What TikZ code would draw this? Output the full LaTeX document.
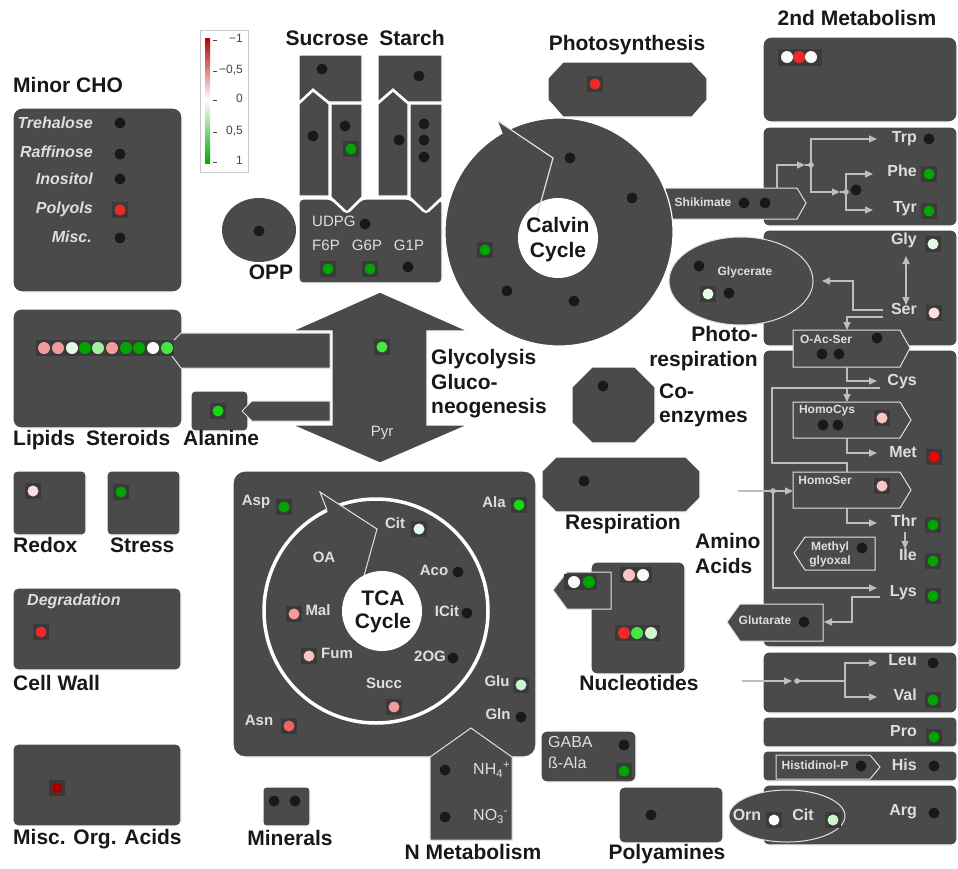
\documentclass[tikz,border=0pt]{standalone}
\usepackage{fontspec}
\setmainfont{Liberation Sans}
\usetikzlibrary{arrows.meta,calc}
\definecolor{boxgray}{RGB}{74,74,74}
\definecolor{dotbg}{RGB}{58,58,58}
\definecolor{dotblk}{RGB}{28,24,22}
\definecolor{lbl}{RGB}{24,24,24}
\definecolor{ltxt}{RGB}{222,222,222}
\definecolor{lnc}{RGB}{190,190,190}
\definecolor{edgec}{RGB}{225,225,225}
\definecolor{legc}{RGB}{200,200,200}
\definecolor{legt}{RGB}{70,70,70}
\definecolor{legr}{RGB}{185,0,0}
\definecolor{legp}{RGB}{245,120,120}
\definecolor{legg1}{RGB}{130,225,130}
\definecolor{legg2}{RGB}{0,170,0}
\definecolor{gA}{RGB}{0,165,0}
\definecolor{gB}{RGB}{20,215,20}
\definecolor{gC}{RGB}{70,230,70}
\definecolor{gD}{RGB}{165,238,165}
\definecolor{gE}{RGB}{228,250,230}
\definecolor{gF}{RGB}{205,246,205}
\definecolor{wW}{RGB}{250,250,250}
\definecolor{pA}{RGB}{252,222,222}
\definecolor{pB}{RGB}{248,195,195}
\definecolor{pC}{RGB}{242,155,155}
\definecolor{pD}{RGB}{238,100,100}
\definecolor{rA}{RGB}{240,40,40}
\definecolor{rB}{RGB}{250,0,0}
\definecolor{rC}{RGB}{165,0,0}
\newcommand\kdot[1]{\fill[dotblk] (#1) circle (5.5pt);}
\newcommand\mdot[2]{\fill[dotbg,shift={(#1)}] (-8,-8) rectangle (8,8); \fill[#2] (#1) circle (5.5pt);}
\tikzset{
 grp/.style={font=\fontsize{21}{25}\selectfont\bfseries, text=lbl, inner sep=0pt},
 itl/.style={font=\fontsize{16}{18}\selectfont\bfseries\itshape, text=ltxt, inner sep=0pt},
 lt/.style={font=\fontsize{15}{17}\selectfont\bfseries, text=ltxt, inner sep=0pt},
 aa/.style={font=\fontsize{16}{18}\selectfont\bfseries, text=ltxt, inner sep=0pt},
 rg/.style={font=\fontsize{15}{17}\selectfont, text=ltxt, inner sep=0pt},
 rgb/.style={font=\fontsize{16}{18}\selectfont, text=ltxt, inner sep=0pt},
 sm/.style={font=\fontsize{12}{13}\selectfont\bfseries, text=ltxt, inner sep=0pt},
 legtxt/.style={font=\fontsize{12}{14}\selectfont, text=legt, inner sep=0pt},
 panel/.style={fill=boxgray, draw=white, line width=1.2pt},
 inset/.style={fill=boxgray, draw=edgec, line width=1pt},
 cnx/.style={draw=lnc, line width=1.2pt},
 arr/.style={-{Triangle[length=8pt,width=7pt]}},
 darr/.style={{Triangle[length=8pt,width=7pt]}-{Triangle[length=8pt,width=7pt]}},
}
\begin{document}
\begin{tikzpicture}[x=1pt,y=-1pt]
\fill[white] (0,0) rectangle (958,868);
\useasboundingbox (0,0) rectangle (958,868);

% ---------- legend
\draw[draw=legc, fill=white, line width=0.8pt] (200,30) rectangle (248,172);
\shade[top color=legr, middle color=legp, bottom color=white] (205,38) rectangle (210,100);
\shade[top color=white, middle color=legg1, bottom color=legg2] (205,100) rectangle (210,163);
\foreach \yy in {40,71,100,132,162} \draw[legt, line width=0.6pt] (213,\yy) -- (217,\yy);
\node[legtxt, anchor=mid east] (lg1) at (243,40) {−1};
\node[legtxt, anchor=mid east] (lg2) at (243,71) {−0,5};
\node[legtxt, anchor=mid east] (lg3) at (243,100) {0};
\node[legtxt, anchor=mid east] (lg4) at (243,132) {0,5};
\node[legtxt, anchor=mid east] (lg5) at (243,162) {1};

% ---------- Minor CHO
\node[grp, anchor=mid west] (tMinor) at (13,90) {Minor CHO};
\path[panel, rounded corners=9pt] (13,108) rectangle (182,292);
\node[itl, anchor=mid east] (tTre) at (93,126) {Trehalose};
\node[itl, anchor=mid east] (tRaf) at (93,155) {Raffinose};
\node[itl, anchor=mid east] (tIno) at (93,182) {Inositol};
\node[itl, anchor=mid east] (tPol) at (93,211) {Polyols};
\node[itl, anchor=mid east] (tMsc) at (92,240) {Misc.};
\kdot{120,123} \kdot{120,154} \kdot{120,179} \mdot{120,210}{rA} \kdot{120,238}

% ---------- OPP
\fill[boxgray] (259,230) ellipse (37pt and 32pt);
\kdot{259,231}
\node[grp, anchor=mid] (tOPP) at (271,277) {OPP};

% ---------- Sucrose / Starch
\node[grp, anchor=mid] (tSuc) at (327,43) {Sucrose};
\node[grp, anchor=mid] (tSta) at (412,43) {Starch};
\path[panel] (299,55) -- (362,55) -- (362,102) -- (329,102) -- (313,89) -- (299,102) -- cycle;
\path[panel] (299,104) -- (313,91) -- (329,104) -- (329,196) -- (299,196) -- cycle;
\path[panel] (331,104) -- (362,104) -- (362,197) -- (347,212) -- (331,197) -- cycle;
\path[panel] (378,55) -- (442,55) -- (442,102) -- (408,102) -- (393,89) -- (378,102) -- cycle;
\path[panel] (378,104) -- (393,91) -- (408,104) -- (408,196) -- (378,196) -- cycle;
\path[panel] (410,104) -- (442,104) -- (442,197) -- (426,212) -- (410,197) -- cycle;
\path[panel, rounded corners=4pt] (299,199) -- (331,199) -- (347,214) -- (362,199) -- (410,199) -- (426,214) -- (442,199) -- (442,283) -- (299,283) -- cycle;
\kdot{322,69} \kdot{313,136} \kdot{345,126} \mdot{351,149}{gA}
\kdot{419,76} \kdot{399,140} \kdot{424,124} \kdot{424,140} \kdot{424,157}
\node[rg, anchor=mid west] (tUDPG) at (312,224) {UDPG};
\kdot{365,224}
\node[rg, anchor=mid] (tF6P) at (326,248) {F6P};
\node[rg, anchor=mid] (tG6P) at (367,248) {G6P};
\node[rg, anchor=mid] (tG1P) at (409,248) {G1P};
\mdot{328,269}{gA} \mdot{370,269}{gA} \kdot{408,267}

% ---------- Glycolysis double arrow
\path[panel] (380,292) -- (468,331) -- (427,331) -- (427,425) -- (468,425) -- (380,463) -- (292,425) -- (332,425) -- (332,331) -- (292,331) -- cycle;
\mdot{382,347}{gC}
\node[rg, anchor=mid] (tPyr) at (382,434) {Pyr};
\node[grp, anchor=west, align=left, font=\fontsize{21}{24.5}\selectfont\bfseries] (tGly) at (431,384) {Glycolysis\\Gluco-\\neogenesis};

% ---------- Lipids, Alanine
\path[panel, rounded corners=8pt] (13,309) rectangle (182,428);
\path[inset] (330,333) -- (181,333) -- (166,348) -- (181,368) -- (330,368) -- cycle;
\path[panel, rounded corners=4pt] (191,391) rectangle (248,431);
\path[inset] (330,401) -- (252,401) -- (242,411) -- (252,421) -- (330,421) -- cycle;
\fill[dotbg] (36,340) rectangle (174,356);
\foreach \xx/\cc in {44/pC,58/pC,72/gE,85/gA,98/gD,112/pC,126/gA,139/gA,153/wW,167/gC} \fill[\cc] (\xx,348) circle (6pt);
\mdot{218,411}{gB}
\node[grp, anchor=mid west] (tLip) at (13,443) {Lipids};
\node[grp, anchor=mid west] (tSter) at (86,443) {Steroids};
\node[grp, anchor=mid west] (tAlan) at (183,443) {Alanine};

% ---------- Redox / Stress / Cell wall / Misc / Minerals
\path[panel, rounded corners=4pt] (13,471) rectangle (86,535);
\path[panel, rounded corners=4pt] (107,471) rectangle (180,535);
\mdot{33,491}{pA} \mdot{121,492}{gA}
\node[grp, anchor=mid west] (tRedox) at (13,550) {Redox};
\node[grp, anchor=mid west] (tStress) at (110,550) {Stress};
\path[panel, rounded corners=5pt] (13,588) rectangle (181,670);
\node[itl, anchor=mid west] (tDeg) at (27,603) {Degradation};
\mdot{41,632}{rA}
\node[grp, anchor=mid west] (tCell) at (13,688) {Cell Wall};
\path[panel, rounded corners=5pt] (13,744) rectangle (181,826);
\mdot{57,788}{rC}
\node[grp, anchor=mid west] (tMiscO) at (13,842) {Misc. Org. Acids};
\path[panel, rounded corners=3pt] (263,787) rectangle (310,826);
\kdot{274,801} \kdot{295,801}
\node[grp, anchor=mid] (tMin) at (290,843) {Minerals};

% ---------- right column boxes
\node[grp, anchor=mid] (t2nd) at (857,23) {2nd Metabolism};
\path[panel, rounded corners=8pt] (763,37) rectangle (957,122);
\fill[dotbg] (778,49) rectangle (822,66);
\fill[wW] (787,57) circle (6pt); \fill[rA] (799,57) circle (6pt); \fill[wW] (811,57) circle (6pt);
\path[panel, rounded corners=6pt] (763,127) rectangle (957,226);
\path[panel, rounded corners=6pt] (763,230) rectangle (957,346);
\path[panel, rounded corners=6pt] (763,350) rectangle (957,647);
\path[panel, rounded corners=6pt] (763,652) rectangle (957,713);
\path[panel, rounded corners=4pt] (763,717) rectangle (957,747);
\path[panel, rounded corners=4pt] (763,751) rectangle (957,781);
\path[panel, rounded corners=6pt] (763,785) rectangle (957,845);

% shikimate
\path[inset] (665,188) -- (797,188) -- (806,203) -- (797,219) -- (665,219) -- cycle;

% ---------- Calvin cycle
\path[panel] (559,232) circle (114pt);
\fill[boxgray] (503,134) -- (498,121) -- (553,158) -- (530,165) -- cycle;
\fill[white] (558,238) circle (40pt);
\draw[edgec, line width=1.2pt] (498,121) -- (553,158) -- (537,216);
\node[grp, anchor=center, align=center] (tCalvin) at (558,240) {Calvin\\Cycle};
\kdot{570,158} \kdot{632,198} \mdot{485,250}{gA} \kdot{507,291} \kdot{574,301}
\node[sm, anchor=mid] (tShik) at (703,204) {Shikimate};
\kdot{744,203} \kdot{765,203}

% ---------- Photosynthesis
\node[grp, anchor=mid] (tPhot) at (627,48) {Photosynthesis};
\path[panel] (563,62) -- (692,62) -- (707,78) -- (707,100) -- (692,117) -- (563,117) -- (548,100) -- (548,78) -- cycle;
\mdot{595,84}{rA}

% ---------- Photorespiration
\path[inset] (741,281) ellipse (72pt and 44pt);
\node[sm, anchor=mid] (tGlyc) at (745,273) {Glycerate};
\kdot{699,266} \mdot{708,294}{gE} \kdot{729,293}
\node[grp, anchor=east, align=right] (tPhotoR) at (758,349) {Photo-\\respiration};

% ---------- amino acid insets
\path[inset] (793,330) -- (900,330) -- (910,348) -- (900,367) -- (793,367) -- cycle;
\path[inset] (793,402) -- (900,402) -- (911,420) -- (900,438) -- (793,438) -- cycle;
\path[inset] (793,472) -- (900,472) -- (911,490) -- (900,508) -- (793,508) -- cycle;
\path[inset] (805,537) -- (875,537) -- (875,570) -- (805,570) -- (794,553) -- cycle;
\path[inset] (740,604) -- (823,604) -- (823,641) -- (740,641) -- (727,622) -- cycle;
\path[inset] (776,755) -- (870,755) -- (880,767) -- (870,779) -- (776,779) -- cycle;
\path[inset] (787,816) ellipse (58pt and 26pt);

% junction coordinates
\coordinate (j1) at (811,165);
\coordinate (j2) at (846,192);
\coordinate (j3) at (773,491);
\coordinate (j4) at (797,681);

% connectors
\draw[cnx, arr] (777,188) |- (805,165);
\draw[cnx] (805,165) -- (j1);
\draw[cnx, arr] (j1) |- (877,139);
\draw[cnx, arr] (j1) |- (840,192);
\draw[cnx] (840,192) -- (j2);
\draw[cnx, arr] (j2) |- (873,174);
\draw[cnx, arr] (j2) |- (873,210);
\draw[cnx, darr] (906,256) -- (906,305);
\draw[cnx, arr] (883,310) -- (853,310) -- (853,281) -- (822,281);
\draw[cnx, arr] (883,317) -- (847,317) -- (847,330);
\draw[cnx, arr] (847,367) |- (877,381);
\draw[cnx] (880,388) -- (772,388) -- (772,463) -- (847,463) -- (847,472);
\draw[cnx, arr] (847,388) -- (847,402);
\draw[cnx, arr] (847,438) |- (877,453);
\draw[cnx, arr] (738,491) -- (793,491);
\draw[cnx, arr] (j3) |- (877,588);
\draw[cnx, arr] (847,508) |- (877,523);
\draw[cnx, arr] (905,532) -- (905,549);
\draw[cnx, arr] (880,597) -- (852,597) -- (852,622) -- (824,622);
\draw[cnx, arr] (742,681) -- (792,681);
\draw[cnx] (j4) -- (845,681);
\draw[cnx, arr] (845,681) |- (877,663);
\draw[cnx, arr] (845,681) |- (877,697);
\foreach \jj in {j1,j2,j3,j4} \fill[lnc] (\jj) circle (2.8pt);

% amino texts and dots
\node[aa, anchor=mid east] (tTrp) at (917,140) {Trp}; \kdot{929,139}
\node[aa, anchor=mid east] (tPhe) at (917,174) {Phe}; \mdot{929,174}{gA}
\node[aa, anchor=mid east] (tTyr) at (917,210) {Tyr}; \mdot{929,211}{gA}
\kdot{856,190}
\node[aa, anchor=mid east] (tGlyAA) at (917,242) {Gly}; \mdot{933,244}{gE}
\node[aa, anchor=mid east] (tSer) at (917,312) {Ser}; \mdot{934,313}{pA}
\node[sm, anchor=mid] (tOAcSer) at (826,341) {O-Ac-Ser};
\kdot{877,338} \kdot{822,354} \kdot{839,354}
\node[aa, anchor=mid east] (tCys) at (917,383) {Cys};
\node[sm, anchor=mid] (tHCys) at (827,411) {HomoCys};
\kdot{823,425} \kdot{838,425} \mdot{882,418}{pB}
\node[aa, anchor=mid east] (tMet) at (917,455) {Met}; \mdot{934,457}{rB}
\node[sm, anchor=mid] (tHSer) at (825,482) {HomoSer};
\mdot{882,486}{pB}
\node[aa, anchor=mid east] (tThr) at (917,524) {Thr}; \mdot{933,525}{gA}
\node[aa, anchor=mid east] (tIle) at (917,558) {Ile}; \mdot{933,561}{gA}
\node[sm, anchor=center, align=center, font=\fontsize{12}{14}\selectfont\bfseries] (tMgly) at (830,554) {Methyl\\glyoxal};
\kdot{862,548}
\node[aa, anchor=mid east] (tLys) at (917,594) {Lys}; \mdot{933,596}{gA}
\node[sm, anchor=mid] (tGlut) at (765,622) {Glutarate}; \kdot{804,622}
\node[grp, anchor=west, align=left] (tAmino) at (695,553) {Amino\\Acids};
\node[aa, anchor=mid east] (tLeu) at (917,663) {Leu}; \kdot{933,663}
\node[aa, anchor=mid east] (tVal) at (917,698) {Val}; \mdot{933,700}{gA}
\node[aa, anchor=mid east] (tPro) at (917,734) {Pro}; \mdot{934,737}{gA}
\node[sm, anchor=mid] (tHisP) at (815,767) {Histidinol-P}; \kdot{861,766}
\node[aa, anchor=mid east] (tHis) at (917,768) {His}; \kdot{934,766}
\node[aa, anchor=mid east] (tArg) at (917,813) {Arg}; \kdot{934,813}
\node[aa, anchor=mid] (tOrn) at (747,818) {Orn}; \mdot{774,820}{wW}
\node[aa, anchor=mid] (tCitU) at (803,818) {Cit}; \mdot{833,820}{gF}

% ---------- Co-enzymes, Respiration
\path[panel] (592,367) -- (635,367) -- (655,387) -- (655,423) -- (635,443) -- (592,443) -- (572,423) -- (572,387) -- cycle;
\kdot{603,386}
\node[grp, anchor=west, align=left, font=\fontsize{21}{24}\selectfont\bfseries] (tCoenz) at (659,405) {Co-\\enzymes};
\path[panel] (556,457) -- (686,457) -- (700,471) -- (700,498) -- (686,512) -- (556,512) -- (542,498) -- (542,471) -- cycle;
\kdot{584,481}
\node[grp, anchor=mid] (tResp) at (623,527) {Respiration};

% ---------- TCA
\path[panel, rounded corners=12pt] (233,471) rectangle (536,757);
\draw[white, line width=3.5pt] (376,611) circle (112pt);
\fill[boxgray] (327,511) -- (320,492) -- (342,506) -- (336,516) -- cycle;
\draw[edgec, line width=1pt] (327,510) -- (320,492) -- (377,529) -- (362,583);
\fill[white] (382,611) circle (40pt);
\node[grp, anchor=center, align=center, font=\fontsize{21}{23}\selectfont\bfseries] (tTCA) at (383,612) {TCA\\Cycle};
\node[lt, anchor=mid] (tAsp) at (256,503) {Asp}; \mdot{284,507}{gA}
\node[lt, anchor=mid] (tAlaT) at (494,505) {Ala}; \mdot{519,505}{gB}
\node[lt, anchor=mid] (tCit) at (395,526) {Cit}; \mdot{419,529}{gE}
\node[lt, anchor=mid] (tOA) at (324,560) {OA};
\node[lt, anchor=mid] (tAco) at (434,573) {Aco}; \kdot{458,572}
\node[lt, anchor=mid] (tMal) at (318,613) {Mal}; \mdot{294,614}{pC}
\node[lt, anchor=mid] (tICit) at (447,614) {ICit}; \kdot{467,613}
\node[lt, anchor=mid] (tFum) at (337,656) {Fum}; \mdot{309,656}{pB}
\node[lt, anchor=mid] (t2OG) at (430,659) {2OG}; \kdot{453,658}
\node[lt, anchor=mid] (tSucc) at (384,686) {Succ}; \mdot{394,707}{pC}
\node[lt, anchor=mid] (tAsn) at (259,723) {Asn}; \mdot{289,726}{pD}
\node[lt, anchor=mid] (tGlu) at (497,684) {Glu}; \mdot{521,685}{gF}
\node[lt, anchor=mid] (tGln) at (498,717) {Gln}; \kdot{521,717}

% ---------- N Metabolism
\path[inset] (430,757) -- (471,728) -- (512,757) -- (512,840) -- (430,840) -- cycle;
\kdot{445,770} \kdot{445,817}
\node[rgb, anchor=mid west] (tNH4) at (473,772) {NH\textsubscript{4}\textsuperscript{+}};
\node[rgb, anchor=mid west] (tNO3) at (473,818) {NO\textsubscript{3}\textsuperscript{-}};
\node[grp, anchor=mid] (tNmet) at (473,857) {N Metabolism};

% ---------- GABA, Polyamines
\path[panel, rounded corners=6pt] (541,731) rectangle (636,782);
\node[rgb, anchor=mid west] (tGABA) at (548,745) {GABA};
\node[rgb, anchor=mid west] (tbAla) at (548,766) {ß-Ala};
\kdot{624,745} \mdot{624,771}{gA}
\path[panel, rounded corners=5pt] (619,787) rectangle (723,843);
\kdot{651,815}
\node[grp, anchor=mid] (tPoly) at (667,857) {Polyamines};

% ---------- Nucleotides
\path[panel, rounded corners=6pt] (591,562) rectangle (685,674);
\path[inset] (611,572) -- (611,609) -- (567,609) -- (553,590) -- (567,572) -- cycle;
\fill[dotbg] (564,574) rectangle (597,590);
\fill[wW] (574,582) circle (6pt); \fill[gA] (589,582) circle (6pt);
\fill[dotbg] (620,567) rectangle (652,583);
\fill[pB] (629,575) circle (6pt); \fill[wW] (643,575) circle (6pt);
\fill[dotbg] (615,625) rectangle (660,641);
\fill[rA] (624,633) circle (6pt); \fill[gC] (637,633) circle (6pt); \fill[gF] (651,633) circle (6pt);
\node[grp, anchor=mid] (tNucl) at (639,688) {Nucleotides};
\end{tikzpicture}
\end{document}
